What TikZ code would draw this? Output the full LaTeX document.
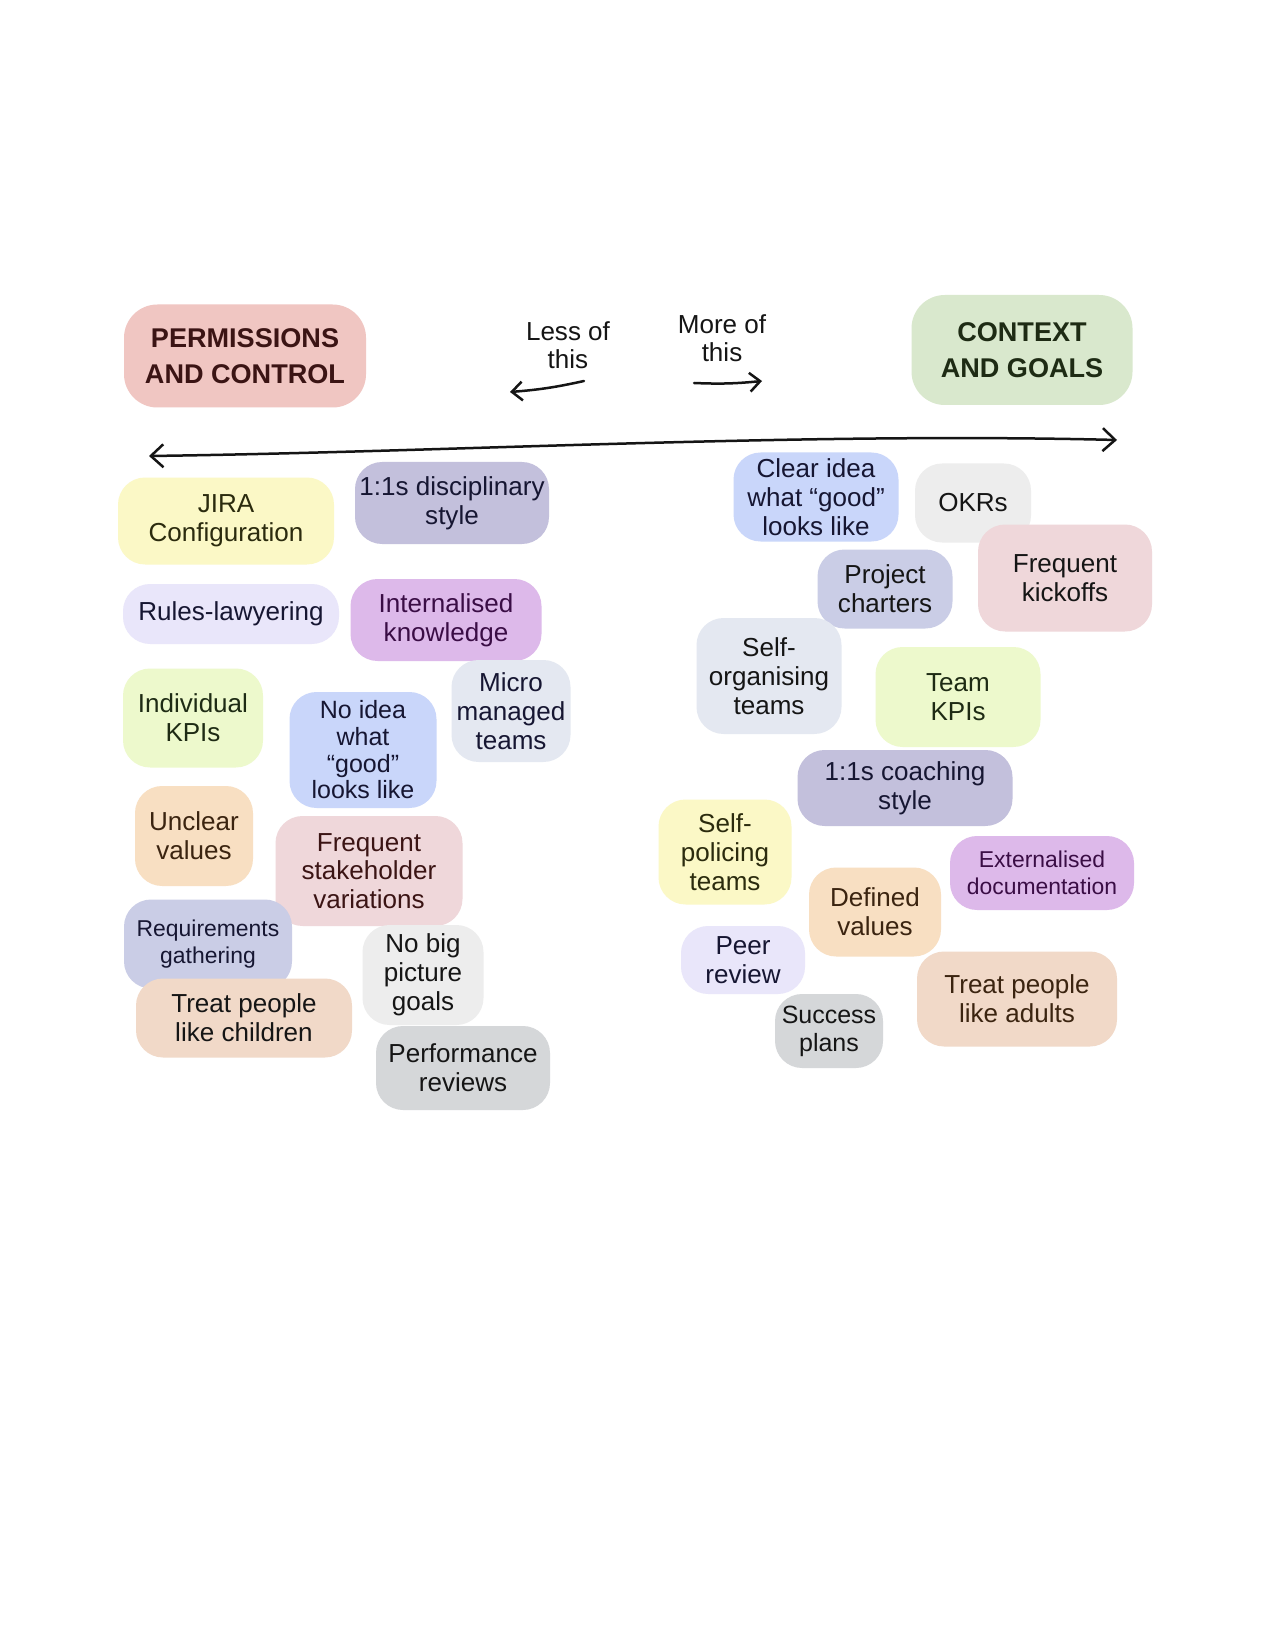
\documentclass[tikz,border=0pt]{standalone}
\usepackage{fontspec}
\setmainfont{Liberation Sans}
\usetikzlibrary{arrows.meta}
\definecolor{cPink}{HTML}{F0C6C2}
\definecolor{cGreen}{HTML}{D9E8CD}
\definecolor{cYellow}{HTML}{FBF8C6}
\definecolor{cLavD}{HTML}{C3C0DC}
\definecolor{cLavL}{HTML}{E9E6FA}
\definecolor{cPurple}{HTML}{DDB9EA}
\definecolor{cLime}{HTML}{EDF9CC}
\definecolor{cBlue}{HTML}{C9D6FA}
\definecolor{cGreyBlue}{HTML}{E4E8F1}
\definecolor{cPeach}{HTML}{F8DFC2}
\definecolor{cRose}{HTML}{EFD7DA}
\definecolor{cNavyL}{HTML}{CACDE6}
\definecolor{cLGrey}{HTML}{EDEDED}
\definecolor{cTan}{HTML}{F1D9C8}
\definecolor{cGrey}{HTML}{D5D7D9}
\definecolor{inkNavy}{HTML}{161632}
\definecolor{inkOlive}{HTML}{2B2B0E}
\definecolor{inkGreen}{HTML}{1E2B14}
\definecolor{inkPurple}{HTML}{3A0D45}
\definecolor{inkBrown}{HTML}{3B2410}
\definecolor{inkMaroon}{HTML}{3B1414}
\definecolor{inkBlack}{HTML}{151515}
\begin{document}
\begin{tikzpicture}[x=0.48pt,y=-0.48pt,
  blob/.style={fill=#1, rounded corners=13pt, align=center, inner sep=1pt,
    font=\fontsize{12.5}{13.8}\selectfont, text=inkNavy},
  small/.style={font=\fontsize{11}{13}\selectfont},
  sz/.style 2 args={minimum width={#1*0.48pt}, minimum height={#2*0.48pt}},
  head/.style={fill=#1, rounded corners=16pt, align=center, inner sep=1pt,
    font=\fontsize{13}{17}\selectfont\bfseries},
  note/.style={align=center, font=\fontsize{12.5}{13.5}\selectfont, text=inkBlack},
  axis/.style={line width=1.2pt, draw=inkBlack, line cap=round,
    arrows={Straight Barb[length=6pt,width=11pt,line width=1.2pt]-Straight Barb[length=6pt,width=11pt,line width=1.2pt]}},
  pointer/.style={line width=1.2pt, draw=inkBlack, line cap=round,
    -{Straight Barb[length=5pt,width=9pt,line width=1.2pt]}}
]
\useasboundingbox[fill=white] (0,0) rectangle (1275,1650);

% headings
\node[head=cPink, sz={242}{103}, text=inkMaroon] (perm) at (245,356) {PERMISSIONS\\AND CONTROL};
\node[head=cGreen, sz={221}{110}, text=inkGreen] (ctx) at (1022,350) {CONTEXT\\AND GOALS};

% direction notes
\node[note] (less) at (568,345) {Less of\\this};
\node[note] (more) at (722,338) {More of\\this};
\coordinate (lessA) at (584,381);
\coordinate (lessB) at (510,392);
\coordinate (moreA) at (694,383);
\coordinate (moreB) at (762,381);
\draw[pointer] (lessA) to[bend left=4] (lessB);
\draw[pointer] (moreA) to[bend right=4] (moreB);

% main axis
\coordinate (axL) at (149,456);
\coordinate (axR) at (1117,440);
\draw[axis] (axL) .. controls (450,452) and (800,432) .. (axR);

% left side
\node[blob=cYellow, sz={216}{87}, text=inkOlive] (jira) at (226,521) {JIRA\\Configuration};
\node[blob=cLavD, sz={194}{82}] (disc) at (452,503) {1:1s disciplinary\\style};
\node[blob=cLavL, sz={216}{60}] (rules) at (231,614) {Rules-lawyering};
\node[blob=cPurple, sz={191}{82}, text=inkPurple] (intern) at (446,620) {Internalised\\knowledge};
\node[blob=cLime, sz={140}{99}, text=inkGreen] (ikpi) at (193,718) {Individual\\KPIs};
\node[blob=cBlue, sz={147}{116}, font=\fontsize{12}{12.8}\selectfont] (noidea) at (363,750) {No idea\\what\\``good''\\looks like};
\node[blob=cGreyBlue, sz={119}{102}] (micro) at (511,711) {Micro\\managed\\teams};
\node[blob=cPeach, sz={118}{100}, text=inkBrown] (unclear) at (194,836) {Unclear\\values};
\node[blob=cRose, sz={187}{110}, text=inkMaroon] (stake) at (369,871) {Frequent\\stakeholder\\variations};
\node[blob=cNavyL, sz={168}{89}, small] (req) at (208,944) {Requirements\\gathering};
\node[blob=cLGrey, sz={121}{100}, text=inkBlack] (nobig) at (423,975) {No big\\picture\\goals};
\node[blob=cTan, sz={216}{79}, text=inkBlack] (child) at (244,1018) {Treat people\\like children};
\node[blob=cGrey, sz={174}{84}, text=inkBlack] (perf) at (463,1068) {Performance\\reviews};

% right side
\node[blob=cBlue, sz={165}{89}] (clear) at (816,497) {Clear idea\\what ``good''\\looks like};
\node[blob=cLGrey, sz={116}{79}, text=inkBlack] (okr) at (973,503) {OKRs};
\node[blob=cNavyL, sz={135}{79}, text=inkBlack] (charter) at (885,589) {Project\\charters};
\node[blob=cRose, sz={174}{107}, text=inkBlack] (kick) at (1065,578) {Frequent\\kickoffs};
\node[blob=cGreyBlue, sz={145}{116}, text=inkBlack] (selforg) at (769,676) {Self-\\organising\\teams};
\node[blob=cLime, sz={165}{100}, text=inkGreen] (tkpi) at (958,697) {Team\\KPIs};
\node[blob=cLavD, sz={215}{76}] (coach) at (905,788) {1:1s coaching\\style};
\node[blob=cYellow, sz={133}{105}, text=inkOlive] (selfpol) at (725,852) {Self-\\policing\\teams};
\node[blob=cPurple, sz={184}{74}, text=inkPurple, small] (ext) at (1042,873) {Externalised\\documentation};
\node[blob=cPeach, sz={132}{89}, text=inkBrown] (defined) at (875,912) {Defined\\values};
\node[blob=cLavL, sz={124}{68}] (peer) at (743,960) {Peer\\review};
\node[blob=cGrey, sz={108}{74}, text=inkBlack, font=\fontsize{12}{13.5}\selectfont] (success) at (829,1031) {Success\\plans};
\node[blob=cTan, sz={200}{95}, text=inkBrown] (adults) at (1017,999) {Treat people\\like adults};
\end{tikzpicture}
\end{document}
